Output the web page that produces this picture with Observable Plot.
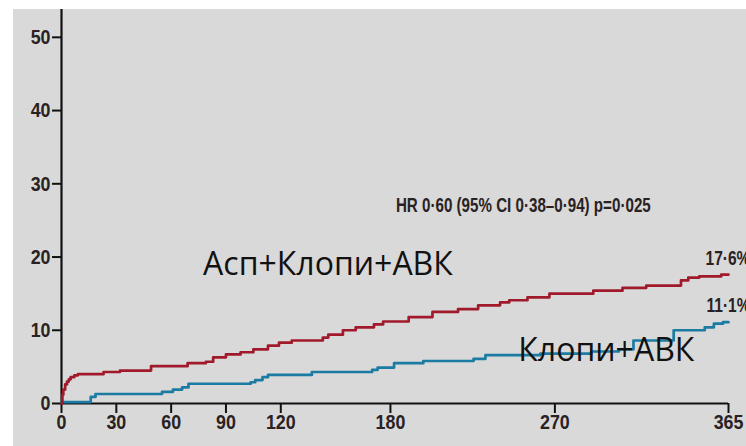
<!DOCTYPE html>
<html>
<head>
<meta charset="utf-8">
<script src="https://cdn.jsdelivr.net/npm/d3@7"></script>
<script src="https://cdn.jsdelivr.net/npm/@observablehq/plot@0.6"></script>
<style>
  html, body { margin: 0; padding: 0; background: #ffffff; }
  #chart { position: absolute; left: 13px; top: 9px; }
</style>
</head>
<body>
<div id="chart"></div>
<script>
// Cumulative event rate (%) by day of follow-up, step curves
const tripleDays   = [0, 0.5, 1, 2, 3, 4, 5, 7, 9, 23, 32, 49, 69, 79, 83, 90, 98, 105, 113, 119, 126, 143, 146, 154, 161, 171, 176, 190, 203, 217, 228, 240, 245, 255, 267, 291, 307, 320, 339, 343, 349, 361, 365];
const tripleValues = [0, 1.2, 1.9, 2.6, 3.0, 3.3, 3.6, 3.85, 4.0, 4.3, 4.5, 5.1, 5.5, 5.7, 6.3, 6.7, 7.0, 7.4, 7.9, 8.3, 8.6, 9.0, 9.4, 10.0, 10.4, 10.8, 11.2, 11.8, 12.5, 12.9, 13.4, 13.8, 14.1, 14.5, 15.0, 15.4, 15.8, 16.1, 16.8, 17.2, 17.35, 17.6, 17.6];

const dualDays   = [0, 16, 18.6, 55, 61, 66, 69.5, 103.5, 106, 110, 113, 137, 170, 173, 182, 198, 225.5, 232, 262, 290, 305, 313, 335, 352, 357, 362, 365];
const dualValues = [0.2, 0.9, 1.3, 1.6, 1.9, 2.2, 2.7, 2.9, 3.2, 3.6, 3.9, 4.3, 4.6, 4.9, 5.5, 5.8, 6.1, 6.6, 6.8, 7.1, 7.4, 8.6, 10.0, 10.4, 10.9, 11.1, 11.1];

const xTicks = [0, 30, 60, 90, 120, 180, 270, 365];
const yTicks = [0, 10, 20, 30, 40, 50];

const seriesNames  = ["Асп+Клопи+АВК", "Клопи+АВК"];
const seriesColors = ["#a11a2b", "#1b7ba3"];
const hrNote = "HR 0·60 (95% CI 0·38–0·94) p=0·025";

const tripleRows = tripleDays.map((d, i) => ({day: d, value: tripleValues[i]}));
const dualRows   = dualDays.map((d, i) => ({day: d, value: dualValues[i]}));

// End-of-follow-up values, labelled at the end of each curve
const tripleEnd = [{day: 365, value: tripleValues[tripleValues.length - 1]}];
const dualEnd   = [{day: 365, value: dualValues[dualValues.length - 1]}];
const fmtPct = d => d.value.toFixed(1).replace(".", "·") + "%";

// Group names written inside the plot area (day, percent)
const groupLabels = [
  {day: 77.5, value: 18.9, text: seriesNames[0]},
  {day: 250, value: 7.25, text: seriesNames[1]}
];

const sans = "'Liberation Sans', Arial, sans-serif";
const ink = "#2a2222";

const chart = Plot.plot({
  width: 733,
  height: 437,
  marginLeft: 48,
  marginRight: 18,
  marginTop: 0,
  marginBottom: 43,
  style: {background: "#d9d9d9", fontFamily: sans, fontSize: "21px", color: ink},
  x: {domain: [0, 365]},
  y: {domain: [0, 53.8]},
  marks: [
    Plot.axisY({ticks: yTicks, tickSize: 9, tickPadding: 2, tickFormat: d => d, label: null,
                stroke: "#111", strokeWidth: 2, fill: ink, fontSize: 21, fontWeight: "bold"}),
    Plot.axisX({ticks: xTicks, tickSize: 10, tickPadding: 1, tickFormat: d => d, label: null,
                stroke: "#111", strokeWidth: 2, fill: ink, fontSize: 21, fontWeight: "bold"}),
    Plot.ruleX([0], {stroke: "#111", strokeWidth: 2.2}),
    Plot.ruleY([0], {stroke: "#111", strokeWidth: 2.2}),
    Plot.line(dualRows, {x: "day", y: "value", curve: "step-after", stroke: seriesColors[1], strokeWidth: 2.7}),
    Plot.line(tripleRows, {x: "day", y: "value", curve: "step-after", stroke: seriesColors[0], strokeWidth: 2.7}),
    Plot.text(tripleEnd, {x: "day", y: "value", text: fmtPct, textAnchor: "start", dx: -23, dy: -16,
                          fontSize: 21, fontWeight: "bold", fill: ink, className: "narrow"}),
    Plot.text(dualEnd, {x: "day", y: "value", text: fmtPct, textAnchor: "start", dx: -22, dy: -17,
                        fontSize: 21, fontWeight: "bold", fill: ink, className: "narrow"}),
    Plot.text([hrNote], {x: 183, y: 27, text: d => d, textAnchor: "start",
                         fontSize: 20.5, fontWeight: "bold", fill: ink, className: "narrow"}),
    Plot.text(groupLabels, {x: "day", y: "value", text: "text", textAnchor: "start",
                            fontSize: 32, fill: "#111", fontFamily: "'Open Sans', sans-serif"})
  ]
});

// Condense the axis numbers and small notes: each text is scaled
// horizontally about its own anchor point, which its transform holds.
const condense = (sel, k) => sel.each(function () {
  const t = this.getAttribute("transform") || "";
  this.setAttribute("transform", (t + ` scale(${k},1)`).trim());
});
condense(d3.select(chart).selectAll('g[aria-label="x-axis tick label"] text'), 0.85);
condense(d3.select(chart).selectAll('g[aria-label="y-axis tick label"] text'), 0.85);
condense(d3.select(chart).selectAll(".narrow text"), 0.74);

document.getElementById("chart").append(chart);
</script>
</body>
</html>
